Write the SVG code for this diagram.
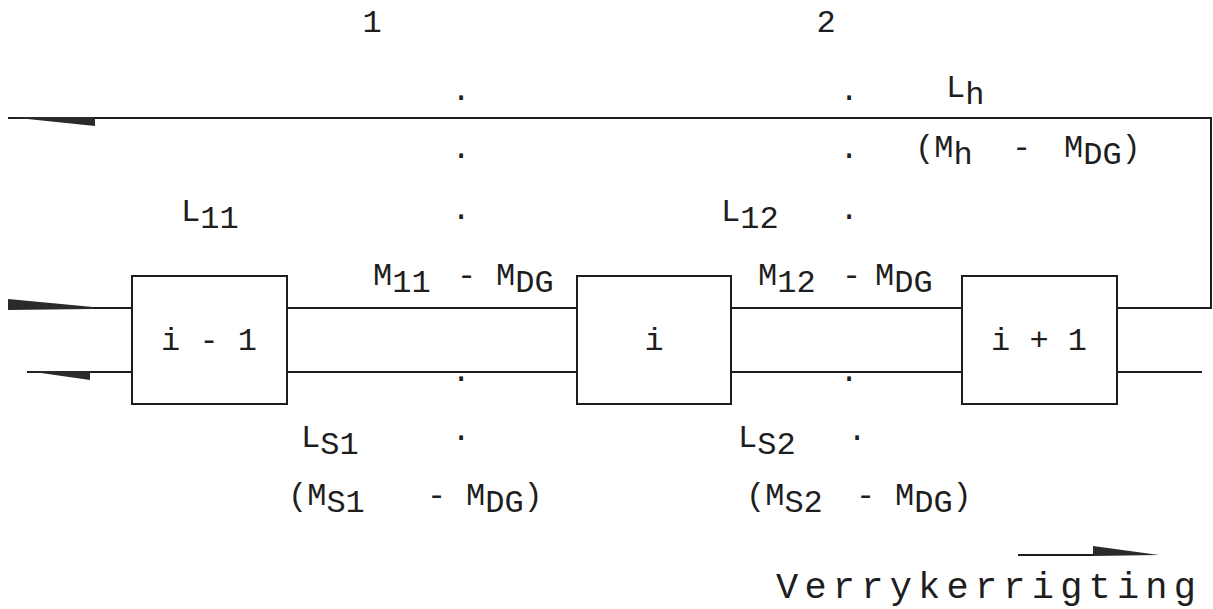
<svg xmlns="http://www.w3.org/2000/svg" width="1213" height="609" viewBox="0 0 1213 609">
  <style>
    .t { font-family: "Liberation Mono", "DejaVu Sans Mono", monospace; font-size: 32px; fill: #1e1e1e; }
    .big { font-size: 37px; }
    .box { fill: #ffffff; stroke: #1e1e1e; stroke-width: 2; }
    .ln { fill: none; stroke: #1e1e1e; stroke-width: 2; }
    .head { fill: #2a2a2a; stroke: none; }
  </style>
  <rect width="1213" height="609" fill="#ffffff"/>

  <!-- flow lines between the stages -->
  <g id="connectors">
    <!-- return line over the top -->
    <polyline class="ln" points="8,118 1211,118 1211,308 1117,308"/>
    <polygon class="head" points="8,117 95,117 95,126"/>
    <!-- upper stream -->
    <line class="ln" x1="8" y1="308" x2="132" y2="308"/>
    <polygon class="head" points="8,299 93,307 93,309 8,310"/>
    <line class="ln" x1="287" y1="308" x2="577" y2="308"/>
    <line class="ln" x1="731" y1="308" x2="962" y2="308"/>
    <!-- lower stream -->
    <line class="ln" x1="27" y1="372" x2="132" y2="372"/>
    <polygon class="head" points="27,371 90,371 90,380"/>
    <line class="ln" x1="287" y1="372" x2="577" y2="372"/>
    <line class="ln" x1="731" y1="372" x2="962" y2="372"/>
    <line class="ln" x1="1117" y1="372" x2="1202" y2="372"/>
    <!-- direction arrow -->
    <line class="ln" x1="1018" y1="555" x2="1095" y2="555"/>
    <polygon class="head" points="1093,546 1159,555 1093,556"/>
  </g>

  <!-- stages -->
  <g id="stage-prev">
    <rect class="box" x="132" y="276" width="155" height="128"/>
    <text class="t" x="161" y="350">i - 1</text>
  </g>
  <g id="stage-i">
    <rect class="box" x="577" y="276" width="154" height="128"/>
    <text class="t" x="654" y="350" text-anchor="middle">i</text>
  </g>
  <g id="stage-next">
    <rect class="box" x="962" y="276" width="155" height="128"/>
    <text class="t" x="991" y="350">i + 1</text>
  </g>

  <!-- section markers and dotted cut lines -->
  <g id="sections">
    <text class="t" x="372" y="32" text-anchor="middle">1</text>
    <text class="t" x="826" y="32" text-anchor="middle">2</text>
    <g class="t">
      <text x="461" y="100" text-anchor="middle">.</text>
      <text x="461" y="158" text-anchor="middle">.</text>
      <text x="461" y="219" text-anchor="middle">.</text>
      <text x="461" y="381" text-anchor="middle">.</text>
      <text x="461" y="440" text-anchor="middle">.</text>
      <text x="849" y="100" text-anchor="middle">.</text>
      <text x="849" y="158" text-anchor="middle">.</text>
      <text x="849" y="219" text-anchor="middle">.</text>
      <text x="849" y="381" text-anchor="middle">.</text>
      <text x="857" y="440" text-anchor="middle">.</text>
    </g>
  </g>

  <!-- stream labels -->
  <g id="labels">
    <text class="t" x="946" y="97">L<tspan dy="7">h</tspan></text>
    <text class="t" x="915" y="157">(M<tspan dy="7">h</tspan></text>
    <text class="t" x="1012" y="157">-</text>
    <text class="t" x="1064" y="157">M<tspan dy="7">DG</tspan><tspan dy="-7">)</tspan></text>

    <text class="t" x="181" y="221">L<tspan dy="7">11</tspan></text>
    <text class="t" x="721" y="221">L<tspan dy="7">12</tspan></text>

    <text class="t" x="373" y="285">M<tspan dy="7">11</tspan></text>
    <text class="t" x="457" y="285">-</text>
    <text class="t" x="496" y="285">M<tspan dy="7">DG</tspan></text>
    <text class="t" x="758" y="285">M<tspan dy="7">12</tspan></text>
    <text class="t" x="842" y="285">-</text>
    <text class="t" x="875" y="285">M<tspan dy="7">DG</tspan></text>

    <text class="t" x="301" y="447">L<tspan dy="7">S1</tspan></text>
    <text class="t" x="738" y="447">L<tspan dy="7">S2</tspan></text>

    <text class="t" x="288" y="505">(M<tspan dy="7">S1</tspan></text>
    <text class="t" x="427" y="505">-</text>
    <text class="t" x="466" y="505">M<tspan dy="7">DG</tspan><tspan dy="-7">)</tspan></text>
    <text class="t" x="746" y="505">(M<tspan dy="7">S2</tspan></text>
    <text class="t" x="856" y="505">-</text>
    <text class="t" x="895" y="505">M<tspan dy="7">DG</tspan><tspan dy="-7">)</tspan></text>

    <text class="t big" x="776" y="598" textLength="420" lengthAdjust="spacing">Verrykerrigting</text>
  </g>
</svg>
